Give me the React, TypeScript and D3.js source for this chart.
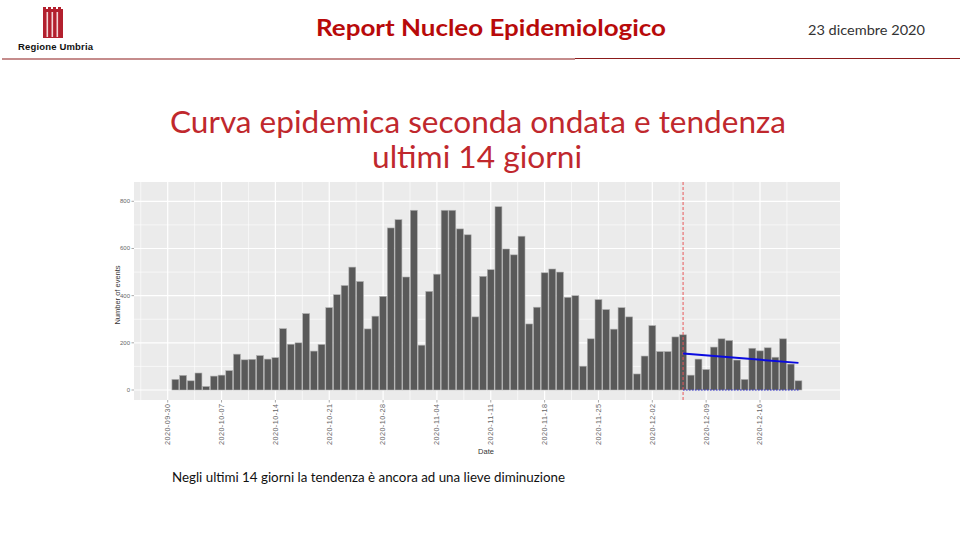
import React from 'react';
import * as d3 from 'd3';

// daily events, starting 2020-10-01
const START_DATE = '2020-10-01';
const EVENTS = [
    45, 62, 39, 72, 15, 59, 63, 82, 152, 128, 130, 146, 131, 137, 260, 194, 200, 324, 165, 193, 349, 404, 443, 521,
    460, 259, 313, 397, 687, 722, 479, 762, 190, 418, 491, 762, 762, 683, 658, 310, 482, 510, 777, 598, 573, 652,
    280, 351, 497, 513, 500, 393, 400, 101, 217, 383, 341, 258, 349, 310, 68, 144, 273, 163, 163, 225, 234, 63, 131,
    87, 182, 217, 210, 127, 45, 177, 166, 179, 139, 217, 110, 39,
];
const X_TICKS = [
    '2020-09-30', '2020-10-07', '2020-10-14', '2020-10-21', '2020-10-28', '2020-11-04',
    '2020-11-11', '2020-11-18', '2020-11-25', '2020-12-02', '2020-12-09', '2020-12-16',
];
const Y_TICKS = [0, 200, 400, 600, 800];
const Y_MINOR = [100, 300, 500, 700];
const CUT_DATE = '2020-12-06';
const TREND_DATES = ['2020-12-06', '2020-12-21'];
const TREND_VALUES = [155, 115];

const parse = d3.utcParse('%Y-%m-%d');
const DAY = 86400000;

const PANEL = { left: 134, right: 840, top: 182, bottom: 400 };

const App = () => {
    const start = parse(START_DATE) as Date;
    const bars = EVENTS.map((v, i) => ({ date: new Date(+start + i * DAY), value: v }));

    const x = d3
        .scaleUtc()
        .domain([parse(X_TICKS[0]) as Date, parse(X_TICKS[X_TICKS.length - 1]) as Date])
        .range([167.7, 760]);
    const y = d3.scaleLinear().domain([0, 800]).range([390, 201.3]);
    const dayW = x(new Date(+start + DAY)) - x(start);
    const barW = dayW * 0.9;

    const tickDates = X_TICKS.map(t => parse(t) as Date);
    const minorX: Date[] = [];
    for (let i = -1; i < tickDates.length; i++) {
        const base = i < 0 ? +tickDates[0] - 7 * DAY : +tickDates[i];
        minorX.push(new Date(base + 3.5 * DAY));
    }

    const trend = d3
        .line<[string, number]>()
        .x(d => x(parse(d[0]) as Date))
        .y(d => y(d[1]));
    const trendPts = TREND_DATES.map((d, i) => [d, TREND_VALUES[i]] as [string, number]);
    const zeroPts = TREND_DATES.map(d => [d, 0] as [string, number]);
    const cutX = x(parse(CUT_DATE) as Date);
    const axisFont = 'Liberation Sans, Arial, sans-serif';

    return (
        <svg
            width={960}
            height={540}
            style={{ position: 'absolute', left: 0, top: 0, background: '#fff' }}
        >
            {/* header */}
            <g>
                <rect x={43} y={9} width={20} height={29} fill='#b3202e' />
                {[46.5, 51.5, 56.5].map(sx => (
                    <rect key={sx} x={sx} y={12} width={1.6} height={25} fill='#f4d6d8' />
                ))}
                {[43, 48, 53, 58].map(sx => (
                    <rect key={sx} x={sx} y={7} width={3} height={3} fill='#b3202e' />
                ))}
                <text
                    x={18}
                    y={50}
                    fontFamily={axisFont}
                    fontWeight='bold'
                    fontSize={9.5}
                    fill='#111'
                    textLength={75}
                >
                    Regione Umbria
                </text>
                <text
                    x={491}
                    y={36}
                    textAnchor='middle'
                    fontFamily='Lato, sans-serif'
                    fontWeight='bold'
                    fontSize={22}
                    fill='#b80a0a'
                    textLength={350}
                    lengthAdjust='spacingAndGlyphs'
                >
                    Report Nucleo Epidemiologico
                </text>
                <text
                    x={808}
                    y={35}
                    fontFamily='Lato, sans-serif'
                    fontSize={14}
                    fill='#333'
                    textLength={117}
                    lengthAdjust='spacingAndGlyphs'
                >
                    23 dicembre 2020
                </text>
                <line x1={2} x2={575} y1={59} y2={59} stroke='#8b1a1a' strokeWidth={1.2} />
                <line x1={575} x2={960} y1={58.5} y2={58.5} stroke='#8b1a1a' strokeWidth={1.2} />
            </g>

            {/* slide title */}
            <g fontFamily='Lato, sans-serif' fill='#c0282d' textAnchor='middle'>
                <text x={478} y={133} fontSize={31} textLength={616} lengthAdjust='spacingAndGlyphs'>
                    Curva epidemica  seconda ondata e tendenza
                </text>
                <text x={477} y={168} fontSize={31} textLength={210} lengthAdjust='spacingAndGlyphs'>
                    ultimi 14 giorni
                </text>
            </g>

            {/* chart panel */}
            <rect
                x={PANEL.left}
                y={PANEL.top}
                width={PANEL.right - PANEL.left}
                height={PANEL.bottom - PANEL.top}
                fill='#ebebeb'
            />
            <g stroke='#fff'>
                {Y_MINOR.map(v => (
                    <line key={'ym' + v} x1={PANEL.left} x2={PANEL.right} y1={y(v)} y2={y(v)} strokeWidth={0.6} />
                ))}
                {minorX.map(d => (
                    <line key={'xm' + +d} x1={x(d)} x2={x(d)} y1={PANEL.top} y2={PANEL.bottom} strokeWidth={0.6} />
                ))}
                {Y_TICKS.map(v => (
                    <line key={'y' + v} x1={PANEL.left} x2={PANEL.right} y1={y(v)} y2={y(v)} strokeWidth={1.2} />
                ))}
                {tickDates.map(d => (
                    <line key={'x' + +d} x1={x(d)} x2={x(d)} y1={PANEL.top} y2={PANEL.bottom} strokeWidth={1.2} />
                ))}
            </g>

            {bars.map(b => (
                <rect
                    key={+b.date}
                    x={x(b.date) - barW / 2}
                    y={y(b.value)}
                    width={barW}
                    height={y(0) - y(b.value)}
                    fill='#595959'
                    stroke='#b0b0b0'
                    strokeWidth={0.6}
                />
            ))}

            <line
                x1={cutX}
                x2={cutX}
                y1={PANEL.top}
                y2={PANEL.bottom}
                stroke='#e8575a'
                strokeWidth={1}
                strokeDasharray='3,2'
            />
            <path d={trend(zeroPts) || ''} stroke='#2020d0' strokeWidth={1} strokeDasharray='1.5,1.5' fill='none' />
            <path d={trend(trendPts) || ''} stroke='#0a0ae0' strokeWidth={2} fill='none' />

            {/* axes */}
            <g fontFamily={axisFont} fontSize={6} fill='#666'>
                {Y_TICKS.map(v => (
                    <g key={v}>
                        <line x1={PANEL.left - 2.5} x2={PANEL.left} y1={y(v)} y2={y(v)} stroke='#555' strokeWidth={0.5} />
                        <text x={PANEL.left - 4} y={y(v) + 2} textAnchor='end'>
                            {v}
                        </text>
                    </g>
                ))}
                {tickDates.map((d, i) => (
                    <g key={+d}>
                        <line x1={x(d)} x2={x(d)} y1={PANEL.bottom} y2={PANEL.bottom + 2.5} stroke='#555' strokeWidth={0.5} />
                        <text
                            transform={`translate(${x(d) + 2.4},${PANEL.bottom + 4}) rotate(-90)`}
                            textAnchor='end'
                            fontSize={7.2}
                            textLength={41}
                        >
                            {X_TICKS[i]}
                        </text>
                    </g>
                ))}
            </g>
            <text
                transform={`translate(120,${(PANEL.top + PANEL.bottom) / 2 + 4}) rotate(-90)`}
                textAnchor='middle'
                fontFamily={axisFont}
                fontSize={7.5}
                fill='#333'
            >
                Number of events
            </text>
            <text x={486} y={454} textAnchor='middle' fontFamily={axisFont} fontSize={7.5} fill='#333'>
                Date
            </text>

            {/* footnote */}
            <text
                x={172}
                y={482}
                fontFamily='Lato, sans-serif'
                fontSize={13}
                fill='#111'
                textLength={393}
                lengthAdjust='spacingAndGlyphs'
            >
                Negli ultimi 14 giorni la tendenza è ancora ad una lieve diminuzione
            </text>
        </svg>
    );
};

export default App;
